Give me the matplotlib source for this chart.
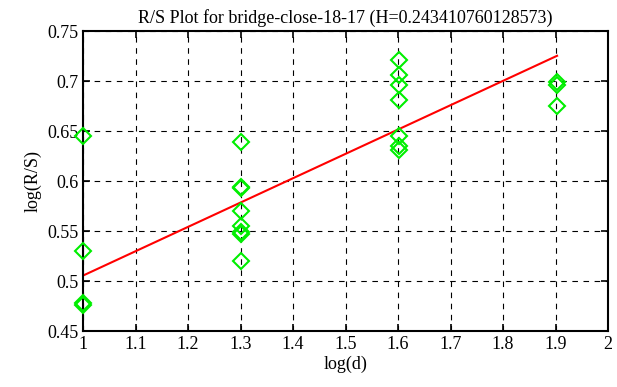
import matplotlib.pyplot as plt
import numpy as np

# log(d) and log(R/S) values
log_d = [1.0, 1.0, 1.0, 1.0,
         1.301, 1.301, 1.301, 1.301, 1.301, 1.301, 1.301, 1.301,
         1.602, 1.602, 1.602, 1.602, 1.602, 1.602, 1.602,
         1.903, 1.903, 1.903]
log_rs = [0.645, 0.530, 0.478, 0.476,
          0.639, 0.593, 0.594, 0.570, 0.555, 0.549, 0.547, 0.520,
          0.721, 0.706, 0.696, 0.681, 0.645, 0.635, 0.631,
          0.699, 0.696, 0.675]
fit_x = [1.0, 1.903]
H = 0.243410760128573
intercept = 0.262

plt.rcParams['font.family'] = ['Liberation Serif', 'DejaVu Serif']
plt.rcParams['font.size'] = 11

fig = plt.figure(figsize=(6.17, 3.87), dpi=100)
ax = fig.add_axes([83 / 617, 1 - 331 / 387, 525 / 617, 300 / 387])

ax.plot(log_d, log_rs, linestyle='none', marker='D', markersize=8,
        markerfacecolor='none', markeredgecolor='#00ee00', markeredgewidth=1.5,
        clip_on=False, zorder=3)
fit_y = [intercept + H * x for x in fit_x]
ax.plot(fit_x, fit_y, color='red', linewidth=1.5)

ax.set_xlim(1, 2)
ax.set_ylim(0.45, 0.75)
ax.set_xticks(np.arange(1, 2.01, 0.1))
ax.set_xticklabels(['1', '1.1', '1.2', '1.3', '1.4', '1.5', '1.6', '1.7', '1.8', '1.9', '2'])
ax.set_yticks(np.arange(0.45, 0.751, 0.05))
ax.set_yticklabels(['0.45', '0.5', '0.55', '0.6', '0.65', '0.7', '0.75'])
ax.grid(True, color='black', linestyle=(0, (5, 5)), linewidth=0.8)
ax.tick_params(direction='in', top=True, right=True, length=5, width=1.2, labelsize=13)
for s in ax.spines.values():
    s.set_linewidth(1.5)

ax.set_xlabel('log(d)', fontsize=13, labelpad=2)
ax.set_ylabel('log(R/S)', fontsize=13, labelpad=4)
ax.set_title('R/S Plot for bridge-close-18-17 (H=' + str(H) + ')', fontsize=13, pad=6)

fig.savefig('out.png', dpi=100)
